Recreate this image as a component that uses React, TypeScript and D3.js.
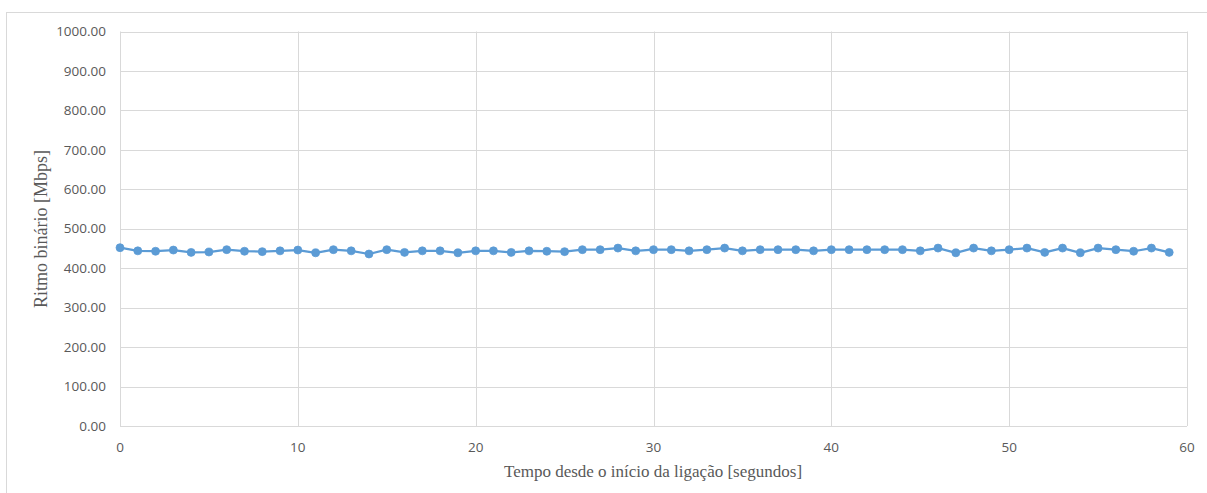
import React, { useRef, useEffect } from 'react';
import * as d3 from 'd3';

// segundos desde o início da ligação
const seconds: number[] = d3.range(0, 60);

// ritmo binário medido (Mbps)
const bitrate: number[] = [
  452, 444, 443, 446, 440, 441, 447, 443, 442, 444,
  446, 439, 447, 444, 436, 447, 440, 444, 444, 439,
  444, 444, 440, 444, 443, 442, 447, 447, 451, 444,
  447, 447, 444, 447, 451, 444, 447, 447, 447, 444,
  447, 447, 447, 447, 447, 444, 451, 439, 451, 444,
  447, 451, 440, 451, 439, 451, 447, 443, 451, 440,
];

const yTicks: number[] = [0, 100, 200, 300, 400, 500, 600, 700, 800, 900, 1000];
const xTicks: number[] = [0, 10, 20, 30, 40, 50, 60];

const xTitle = 'Tempo desde o início da ligação [segundos]';
const yTitle = 'Ritmo binário [Mbps]';

const W = 1207;
const H = 493;

const App: React.FC = () => {
  const svgRef = useRef<SVGSVGElement>(null);

  useEffect(() => {
    if (!svgRef.current) return;
    const svg = d3.select(svgRef.current);
    svg.selectAll('*').remove();

    const plot = { left: 120, top: 31.5, right: 1187, bottom: 426 };
    const gridColor = '#d9d9d9';
    const labelColor = '#595959';
    const blue = '#5b9bd5';

    // chart frame
    svg.append('rect')
      .attr('x', 6.5).attr('y', 12.5)
      .attr('width', W + 20).attr('height', H + 20)
      .attr('fill', '#fff')
      .attr('stroke', gridColor);

    const x = d3.scaleLinear().domain([0, 60]).range([plot.left, plot.right]);
    const y = d3.scaleLinear().domain([0, 1000]).range([plot.bottom, plot.top]);

    // horizontal grid + y labels
    const gy = svg.append('g');
    gy.selectAll('line')
      .data(yTicks)
      .enter().append('line')
      .attr('x1', plot.left).attr('x2', plot.right)
      .attr('y1', d => Math.round(y(d)) + 0.5)
      .attr('y2', d => Math.round(y(d)) + 0.5)
      .attr('stroke', gridColor);
    gy.selectAll('text')
      .data(yTicks)
      .enter().append('text')
      .attr('x', 106)
      .attr('y', d => y(d))
      .attr('dy', '0.35em')
      .attr('text-anchor', 'end')
      .style('font-family', '"Open Sans", sans-serif')
      .style('font-size', '13.5px')
      .style('fill', labelColor)
      .text(d => d.toFixed(2));

    // vertical grid + x labels
    const gx = svg.append('g');
    gx.selectAll('line')
      .data(xTicks)
      .enter().append('line')
      .attr('x1', d => Math.round(x(d)) + 0.5)
      .attr('x2', d => Math.round(x(d)) + 0.5)
      .attr('y1', plot.top).attr('y2', plot.bottom)
      .attr('stroke', gridColor);
    gx.selectAll('text')
      .data(xTicks)
      .enter().append('text')
      .attr('x', d => x(d))
      .attr('y', 447)
      .attr('dy', '0.35em')
      .attr('text-anchor', 'middle')
      .style('font-family', '"Open Sans", sans-serif')
      .style('font-size', '13.5px')
      .style('fill', labelColor)
      .text(d => String(d));

    // series
    const pts = seconds.map((s, i) => [s, bitrate[i]] as [number, number]);
    const line = d3.line<[number, number]>()
      .x(d => x(d[0]))
      .y(d => y(d[1]));

    svg.append('path')
      .datum(pts)
      .attr('d', line)
      .attr('fill', 'none')
      .attr('stroke', blue)
      .attr('stroke-width', 2.25)
      .attr('stroke-linejoin', 'round');

    svg.append('g')
      .selectAll('circle')
      .data(pts)
      .enter().append('circle')
      .attr('cx', d => x(d[0]))
      .attr('cy', d => y(d[1]))
      .attr('r', 4)
      .attr('fill', blue)
      .attr('stroke', blue)
      .attr('stroke-width', 0.75);

    // axis titles
    svg.append('text')
      .attr('x', 653)
      .attr('y', 471)
      .attr('dy', '0.35em')
      .attr('text-anchor', 'middle')
      .style('font-family', '"Liberation Serif", serif')
      .style('font-size', '17px')
      .style('fill', '#595959')
      .text(xTitle);

    svg.append('text')
      .attr('transform', `translate(41,229) rotate(-90)`)
      .attr('dy', '0.35em')
      .attr('text-anchor', 'middle')
      .style('font-family', '"Liberation Serif", serif')
      .style('font-size', '18px')
      .style('fill', '#595959')
      .text(yTitle);
  }, []);

  return (
    <svg
      ref={svgRef}
      width={W}
      height={H}
      style={{ position: 'absolute', left: 0, top: 0, background: '#fff' }}
    />
  );
};

export default App;
